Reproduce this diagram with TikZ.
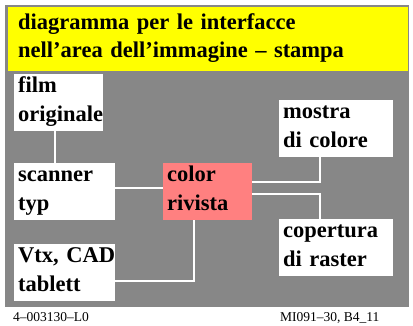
\documentclass[tikz,border=0pt]{standalone}
\usepackage{fontspec}
\setmainfont{Liberation Serif}
\usetikzlibrary{positioning}
\definecolor{bggray}{RGB}{135,135,135}
\definecolor{titleyellow}{RGB}{255,255,0}
\definecolor{rosa}{RGB}{255,128,128}
\newcommand\boxfont{\fontsize{22.5}{28.5}\selectfont\bfseries\hyphenpenalty=10000\relax}
\tikzset{
  box/.style={anchor=north west, fill=white, inner xsep=4pt, inner ysep=0pt, align=left,
    text height=18.5pt, text depth=38.5pt, font=\boxfont},
  link/.style={draw=white, line width=1.3pt},
  foot/.style={font=\fontsize{13.5}{15}\selectfont, inner sep=0pt},
}

\begin{document}
\begin{tikzpicture}[x=1pt, y=-1pt]
\useasboundingbox (0,0) rectangle (413,325);
\fill[bggray] (5,5) rectangle (409,307);
\node[anchor=north west, fill=titleyellow, inner xsep=10pt, inner ysep=0pt, align=left,
  text width=380pt, text height=22pt, text depth=42pt,
  font=\fontsize{22.5}{28.3}\selectfont\bfseries] (title) at (8,7)
  {diagramma per le interfacce\\nell'area dell'immagine -- stampa};
\node[box, text width=81pt] (film) at (14,74) {film\\originale};
\node[box, text width=93pt] (scanner) at (14,163) {scanner\\typ};
\node[box, text width=93pt] (vtx) at (14,244) {Vtx,~CAD\\tablett};
\node[box, fill=rosa, text width=81pt] (rivista) at (163,163) {color\\rivista};
\node[box, text width=106pt] (mostra) at (279,100) {mostra\\di colore};
\node[box, text width=106pt] (raster) at (279,219) {copertura\\di raster};
\draw[link] ([xshift=41pt]film.south west) -- ([xshift=41pt]scanner.north west);
\draw[link] ([yshift=-25pt]scanner.north east) -- ([yshift=-25pt]rivista.north west);
\draw[link] ([yshift=-19pt]rivista.north east) -| ([xshift=41pt]mostra.south west);
\draw[link] ([yshift=-31pt]rivista.north east) -| ([xshift=41pt]raster.north west);
\draw[link] ([xshift=31pt]rivista.south west) |- ([yshift=-37pt]vtx.north east);
\node[foot, anchor=base west] (codeleft) at (13,321) {4--003130--L0};
\node[foot, anchor=base west] (coderight) at (280,321) {MI091--30, B4\_11};
\end{tikzpicture}
\end{document}
